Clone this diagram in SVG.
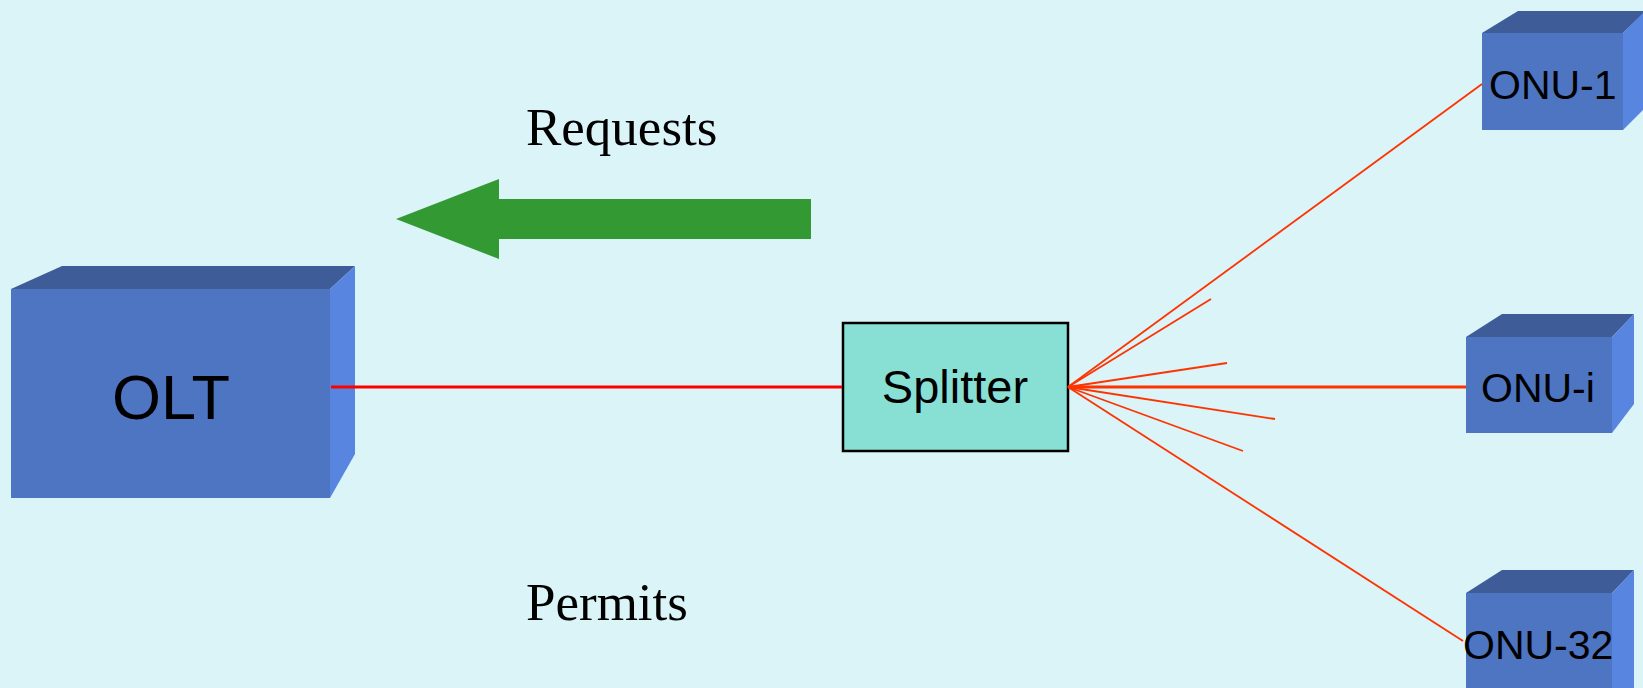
<svg xmlns="http://www.w3.org/2000/svg" width="1643" height="688" viewBox="0 0 1643 688">
<style>
.front{fill:#4d75c2}
.top{fill:#3e5c97}
.side{fill:#5785df}
.sans{font-family:"Liberation Sans",Arial,sans-serif;fill:#000}
.serif{font-family:"Liberation Serif","Times New Roman",serif;fill:#000;font-size:53px}
.fan{stroke:#ff3300;stroke-width:1.8;fill:none}
</style>
<rect width="1643" height="688" fill="#daf4f7"/>
<g id="requests-arrow">
<polygon points="396,219 499,179 499,199 811,199 811,239 499,239 499,259" fill="#339933"/>
</g>
<g id="label-requests"><text class="serif" x="526" y="145">Requests</text></g>
<g id="label-permits"><text class="serif" x="526" y="620">Permits</text></g>
<g id="olt">
<polygon class="top" points="11,289 62,266 355,266 330,289"/>
<polygon class="side" points="330,289 355,266 355,454 330,498"/>
<rect class="front" x="11" y="289" width="319" height="209"/>
<text class="sans" x="171" y="419" font-size="63" text-anchor="middle">OLT</text>
</g>
<g id="splitter">
<rect x="843" y="323" width="225" height="128" fill="#88e0d4" stroke="#000" stroke-width="2.5"/>
<text class="sans" x="955" y="403" font-size="47" text-anchor="middle">Splitter</text>
</g>
<g id="onu-1">
<polygon class="top" points="1482,33 1518,11 1646,11 1623,33"/>
<polygon class="side" points="1623,33 1646,10 1646,107 1623,130"/>
<rect class="front" x="1482" y="33" width="141" height="97"/>
<text class="sans" x="1489" y="99" font-size="41">ONU-1</text>
</g>
<g id="onu-i">
<polygon class="top" points="1466,337 1502,314 1634,314 1612,337"/>
<polygon class="side" points="1612,337 1634,314 1634,404 1612,433"/>
<rect class="front" x="1466" y="337" width="146" height="96"/>
<text class="sans" x="1481" y="402" font-size="41">ONU-i</text>
</g>
<g id="onu-32">
<polygon class="top" points="1466,593 1502,570 1634,570 1612,593"/>
<polygon class="side" points="1612,593 1634,570 1634,690 1612,690"/>
<rect class="front" x="1466" y="593" width="146" height="97"/>
<text class="sans" x="1463" y="659" font-size="41">ONU-32</text>
</g>
<g id="connectors">
<line x1="331" y1="387" x2="842" y2="387" stroke="#ff0000" stroke-width="3"/>
<line class="fan" x1="1068" y1="387" x2="1482" y2="84"/>
<line class="fan" x1="1068" y1="387" x2="1211" y2="299"/>
<line class="fan" x1="1068" y1="387" x2="1227" y2="363"/>
<line x1="1068" y1="387" x2="1466" y2="387" stroke="#ff3300" stroke-width="3"/>
<line class="fan" x1="1068" y1="387" x2="1275" y2="419"/>
<line class="fan" x1="1068" y1="387" x2="1243" y2="451"/>
<line class="fan" x1="1068" y1="387" x2="1463" y2="641"/>
</g>
</svg>
